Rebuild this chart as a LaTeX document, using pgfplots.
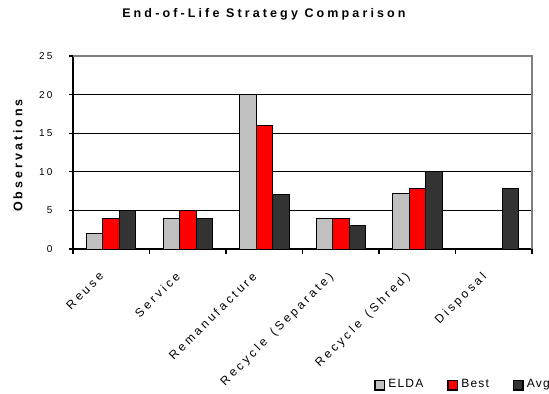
\documentclass[border=0pt]{standalone}
\usepackage{pgfplots}
\pgfplotsset{compat=1.18}
\usepackage{fontspec}
\setmainfont{Liberation Sans}
\newfontfamily\titlefont[LetterSpace=25]{Liberation Sans Bold}
\newfontfamily\boldfont{Liberation Sans Bold}
\newfontfamily\tickfont[LetterSpace=22]{Liberation Sans}
\newfontfamily\legfont[LetterSpace=10]{Liberation Sans}
\makeatletter
\def\spcamt{3bp}
\def\spc#1{\spc@#1\relax\relax}
\def\spc@#1#2{#1\ifx\relax#2\else\kern\spcamt\expandafter\spc@\expandafter#2\fi}
\makeatother
\definecolor{elda}{HTML}{C0C0C0}
\definecolor{best}{HTML}{FF0000}
\definecolor{avg}{HTML}{333333}
\definecolor{frame}{HTML}{808080}
\begin{document}
\begin{tikzpicture}
\begin{axis}[name=ax,
  scale only axis, width=459bp, height=193bp,
  xmin=-0.5, xmax=5.5, ymin=0, ymax=25,
  ytick={0,5,...,25},
  /pgf/number format/assume math mode=true,
  axis x line*=bottom, axis y line*=left,
  axis line style={line width=1.1bp, black},
  ybar=0pt, bar width=16.5bp,
  xtick={0,...,5},
  xticklabels={\spc{Reuse},\spc{Service},\spc{Remanufacture},\spc{Recycle~(Separate)},\spc{Recycle~(Shred)},\spc{Disposal}},
  major x tick style={draw=none},
  minor xtick={-0.5,0.5,...,5.5},
  minor x tick style={line width=1.1bp, black},
  minor tick length=5bp,
  xtick align=outside,
  ytick align=center,
  major tick length=8bp,
  ytick style={line width=1.1bp, black},
  ymajorgrids, grid style={line width=1.1bp, black},
  xticklabel style={font=\fontsize{12bp}{14bp}\selectfont, xshift=-13bp, yshift=-14bp, rotate=45, anchor=north east, inner sep=0bp},
  yticklabel style={font=\tickfont\fontsize{10bp}{12bp}\selectfont, xshift=-13bp},
  ylabel={\boldfont\fontsize{12.5bp}{14bp}\selectfont\spc{Observations}},
  ylabel style={at={(rel axis cs:0,0.5)}, anchor=center, yshift=55bp, xshift=-3bp},
  title={\titlefont\fontsize{12.5bp}{14bp}\selectfont End-of-Life Strategy Comparison},
  title style={at={(0.416,1)}, anchor=base, yshift=33bp},
  legend columns=3,
  legend style={draw=none, fill=none, at={(1,0)}, anchor=north east, xshift=20bp, yshift=-128bp,
    font=\legfont\fontsize{12bp}{13bp}\selectfont, inner sep=0pt,
    /tikz/every odd column/.append style={column sep=1bp},
    /tikz/every even column/.append style={column sep=22bp}},
  legend image code/.code={\draw[#1, line width=1.5bp] (0bp,-6bp) rectangle (9.5bp,3.5bp);},
  clip=false,
]
\addplot[fill=elda, draw=black, line width=1bp] coordinates {(0,2) (1,4) (2,20) (3,4) (4,7.2)};
\addplot[fill=best, draw=black, line width=1bp] coordinates {(0,4) (1,5) (2,16) (3,4) (4,7.9)};
\addplot[fill=avg, draw=black, line width=1bp] coordinates {(0,5) (1,4) (2,7.1) (3,3) (4,10) (5,7.9)};
\legend{ELDA,Best,Avg}
\draw[frame, line width=1.1bp] (rel axis cs:0,1) -- (rel axis cs:1,1) -- (rel axis cs:1,0);
\end{axis}
\pgfresetboundingbox
\path ([xshift=-73bp,yshift=-145bp]ax.south west) rectangle ([xshift=17bp,yshift=56bp]ax.north east);
\end{tikzpicture}
\end{document}
